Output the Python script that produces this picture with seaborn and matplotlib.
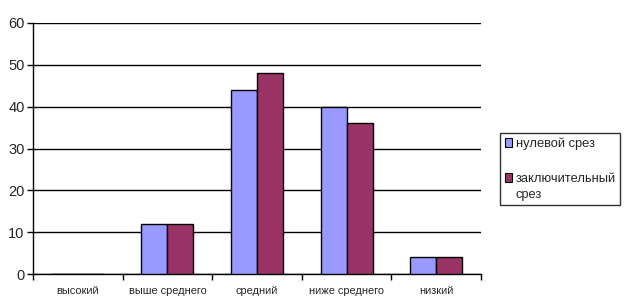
import matplotlib
matplotlib.use("Agg")
import matplotlib.pyplot as plt
import seaborn as sns
import pandas as pd
import numpy as np

categories = ["высокий", "выше среднего", "средний", "ниже среднего", "низкий"]
series_names = ["нулевой срез", "заключительный\nсрез"]
values_zero = [0, 12, 44, 40, 4]
values_final = [0, 12, 48, 36, 4]
colors = ["#9999FF", "#993366"]
yticks = [0, 10, 20, 30, 40, 50, 60]

df = pd.DataFrame({
    "cat": categories * 2,
    "series": [series_names[0]] * 5 + [series_names[1]] * 5,
    "value": values_zero + values_final,
})

sns.set_theme(style="white")
plt.rcParams["font.family"] = ["Liberation Sans", "DejaVu Sans"]

fig = plt.figure(figsize=(6.25, 3.06), dpi=100)
ax = fig.add_axes([33 / 625, 1 - 274 / 306, (481 - 33) / 625, (274 - 23) / 306])

sns.barplot(data=df, x="cat", y="value", hue="series", order=categories,
            hue_order=series_names, palette=colors, width=0.58, saturation=1,
            edgecolor="black", linewidth=1.0, ax=ax, legend=True, zorder=3)

ax.set_ylim(0, 60)
ax.set_xlim(-0.5, len(categories) - 0.5)
ax.set_yticks(yticks)
ax.set_yticklabels([str(v) for v in yticks])
ax.yaxis.grid(True, color="black", linewidth=1.0, zorder=0)
ax.set_axisbelow(True)
ax.set_xlabel("")
ax.set_ylabel("")
ax.tick_params(axis="x", which="major", length=0, labelsize=7.9, pad=9)
ax.tick_params(axis="y", which="major", length=4, width=1, color="black", labelsize=10.5, pad=2, left=True, direction="out")
ax.set_xticks(np.arange(-0.5, len(categories), 1.0), minor=True)
ax.tick_params(axis="x", which="minor", length=4, width=1, color="black", bottom=True, direction="out")

for s in ["top", "right"]:
    ax.spines[s].set_visible(False)
for s in ["left", "bottom"]:
    ax.spines[s].set_color("black")
    ax.spines[s].set_linewidth(1.0)

leg = ax.legend(loc="upper left", bbox_to_anchor=(500 / 625, 1 - 133 / 306),
                bbox_transform=fig.transFigure, frameon=True, fancybox=False,
                fontsize=9.3, handlelength=0.6, handleheight=0.6, handletextpad=0.25,
                labelspacing=1.75, borderpad=0.35, borderaxespad=0)
leg.get_frame().set_edgecolor("black")
leg.get_frame().set_linewidth(1.0)
for t in leg.get_texts():
    t.set_linespacing(1.45)
for i, h in enumerate(leg.legend_handles):
    h.set_edgecolor("black")
    h.set_linewidth(0.8)
    if i == 1:
        h.set_y(h.get_y() + 6.5)

fig.savefig("out.png", dpi=100)
